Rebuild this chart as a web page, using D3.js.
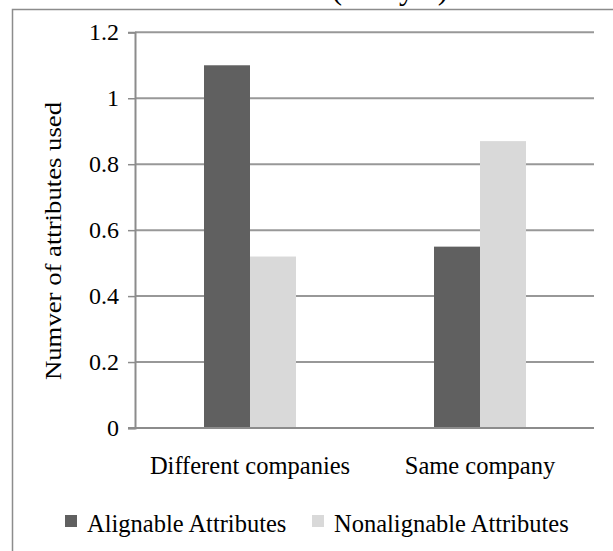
<!DOCTYPE html>
<html>
<head>
<meta charset="utf-8">
<script src="https://cdn.jsdelivr.net/npm/d3@7"></script>
<style>
  html, body { margin: 0; padding: 0; background: #fff; }
  svg { display: block; }
  svg text { font-family: "Liberation Serif", "Times New Roman", Times, "DejaVu Serif", serif !important; fill: #000; }
</style>
</head>
<body>
<svg id="chart" width="613" height="551"></svg>
<script>
const categories = ["Different companies", "Same company"];
const seriesNames = ["Alignable Attributes", "Nonalignable Attributes"];
const alignable = [1.1, 0.55];
const nonalignable = [0.52, 0.87];
const yTicks = [0, 0.2, 0.4, 0.6, 0.8, 1, 1.2];
const colors = ["#606060", "#d9d9d9"];
const FONT = "'Liberation Serif', 'Times New Roman', Times, 'DejaVu Serif', serif";

const svg = d3.select("#chart");

// outer chart frame (extends past right/bottom)
svg.append("rect")
  .attr("x", 12.5).attr("y", 9.5)
  .attr("width", 640).attr("height", 600)
  .attr("fill", "none").attr("stroke", "#8c8c8c").attr("stroke-width", 1.5);

// title (mostly cut off at top, as in the reference)
svg.append("text")
  .attr("x", 318).attr("y", -1)
  .attr("text-anchor", "middle")
  .attr("font-family", FONT)
  .style("font-size", "31px")
  .text("Conditions (Study 1)");

const x0 = d3.scaleBand().domain(categories).range([135, 595]).paddingInner(0.6).paddingOuter(0.3);
const x1 = d3.scaleBand().domain(seriesNames).range([0, x0.bandwidth()]);
const y = d3.scaleLinear().domain([0, 1.2]).range([428, 32.3]);

// gridlines
svg.append("g").selectAll("line").data(yTicks.filter(d => d > 0)).join("line")
  .attr("x1", 135).attr("x2", 594)
  .attr("y1", d => y(d)).attr("y2", d => y(d))
  .attr("stroke", "#989898").attr("stroke-width", 2);

// bars
const data = categories.map((c, i) => ({ c, vals: [alignable[i], nonalignable[i]] }));
svg.append("g").selectAll("g").data(data).join("g")
  .attr("transform", d => `translate(${x0(d.c)},0)`)
  .selectAll("rect").data(d => d.vals.map((v, j) => ({ s: seriesNames[j], v, j })))
  .join("rect")
  .attr("x", d => x1(d.s)).attr("width", x1.bandwidth())
  .attr("y", d => y(d.v)).attr("height", d => y(0) - y(d.v))
  .attr("fill", d => colors[d.j]);

// y axis
const yAxis = d3.axisLeft(y).tickValues(yTicks).tickSize(7).tickPadding(9)
  .tickFormat(d => d3.format("")(+d.toFixed(1)));
const ya = svg.append("g").attr("transform", "translate(135,0)").call(yAxis)
  .attr("font-family", FONT).attr("font-size", 24);
ya.select(".domain").attr("stroke", "#8c8c8c").attr("stroke-width", 2);
ya.selectAll(".tick line").attr("stroke", "#8c8c8c").attr("stroke-width", 1.5);
ya.selectAll(".tick text").attr("font-family", FONT).style("font-size", "24px").attr("fill", "#000");

// x axis baseline
svg.append("line").attr("x1", 128).attr("x2", 594)
  .attr("y1", y(0)).attr("y2", y(0))
  .attr("stroke", "#8c8c8c").attr("stroke-width", 2);

// category labels
svg.append("g").selectAll("text").data(categories).join("text")
  .attr("x", d => x0(d) + x0.bandwidth() / 2)
  .attr("y", 474)
  .attr("text-anchor", "middle")
  .attr("font-family", FONT)
  .style("font-size", "24.5px")
  .text(d => d);

// y axis title
svg.append("text")
  .attr("transform", "translate(61,241) rotate(-90)")
  .attr("text-anchor", "middle")
  .attr("font-family", FONT)
  .attr("textLength", 278).attr("lengthAdjust", "spacingAndGlyphs")
  .style("font-size", "23px")
  .text("Numver of attributes used");

// legend
const legendX = [65, 312];
const lg = svg.append("g").selectAll("g").data(seriesNames).join("g")
  .attr("transform", (d, i) => `translate(${legendX[i]},515)`);
lg.append("rect").attr("width", 12).attr("height", 12).attr("fill", (d, i) => colors[i]);
lg.append("text").attr("x", 22).attr("y", 17)
  .attr("font-family", FONT)
  .style("font-size", "24.5px")
  .text(d => d);
</script>
</body>
</html>
